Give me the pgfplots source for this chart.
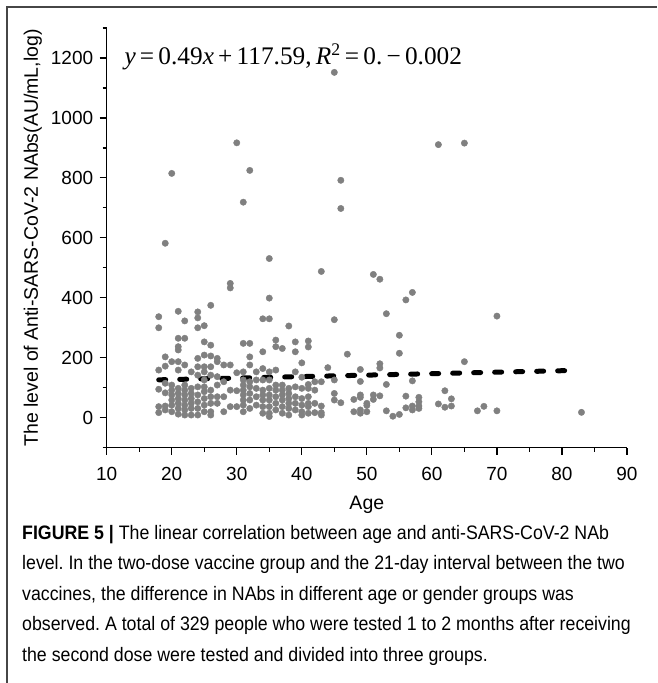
\documentclass[border=0pt]{standalone}
\usepackage{fontspec}
\setmainfont{Liberation Sans}
\newfontfamily\timesfont{Liberation Serif}
\newfontfamily\capfont[FakeStretch=0.91]{Liberation Sans}
\usepackage{pgfplots}
\pgfplotsset{compat=1.18}
\definecolor{dotgray}{RGB}{128,128,128}
\definecolor{framegray}{RGB}{70,70,70}
\frenchspacing

\pgfplotstableread{
age val
45 1152
30 917
32 825
20 815
61 911
65 916
31 719
46 792
46 698
19 582
35 531
43 488
51 478
52 462
29 448
29 433
57 418
35 399
56 393
26 375
53 347
70 339
18 337
21 355
22 323
24 353
24 333
25 307
34 330
35 330
38 306
45 327
18 300
24 300
55 275
55 215
47 212
65 187
49 161
52 180
52 166
49 121
53 111
57 123
62 90
48 61
49 76
49 68
50 48
50 41
51 76
51 61
52 73
48 20
49 26
49 15
50 20
53 23
54 5
55 11
56 33
56 72
57 39
57 26
58 68
58 53
58 39
58 31
61 46
62 35
63 63
63 39
67 23
68 38
70 23
83 18
40 183
40 135
40 98
40 64
40 42
40 20
40 9
41 256
41 236
41 111
41 98
41 70
41 48
41 37
41 15
42 120
42 92
42 48
42 17
43 120
43 39
43 17
43 9
44 167
45 126
45 81
45 59
46 50
18 159
18 95
18 37
18 17
19 203
19 172
19 115
19 83
19 39
19 26
20 187
20 109
20 92
20 76
20 59
20 42
20 20
21 265
21 237
21 226
21 187
21 159
21 98
21 81
21 64
21 48
21 31
21 12
22 265
22 176
22 109
22 92
22 76
22 59
22 42
22 26
22 9
23 153
23 98
23 81
23 64
23 48
23 31
23 9
24 198
24 170
24 142
24 103
24 76
24 53
24 31
24 9
25 253
25 209
25 170
25 153
25 126
25 103
25 87
25 64
25 42
25 20
26 242
26 206
26 170
26 142
26 92
26 70
26 48
26 20
26 9
27 198
27 187
27 137
27 109
27 70
27 48
28 176
28 120
28 70
28 20
29 176
29 92
29 37
30 150
30 90
30 37
31 248
31 153
31 126
31 109
31 92
31 76
31 59
31 42
31 20
32 248
32 203
32 176
32 120
32 103
32 81
32 59
32 31
33 153
33 126
33 98
33 70
33 42
34 220
34 164
34 126
34 92
34 76
34 59
34 37
34 15
35 153
35 126
35 98
35 76
35 59
35 37
35 15
35 4
36 259
36 237
36 159
36 109
36 92
36 70
36 48
36 26
37 231
37 109
37 92
37 76
37 59
37 37
37 15
38 98
38 81
38 64
38 48
38 31
38 9
39 253
39 220
39 153
39 103
39 70
39 48
39 26
}\agedata

\begin{document}
\begin{tikzpicture}[x=1pt,y=1pt]
\useasboundingbox (0,0) rectangle (657,-683);
\draw[line width=1.2pt, framegray] (7,-683) -- (7,-7) -- (657,-7);

\begin{axis}[
    at={(106.7pt,-447.7pt)}, anchor=south west,
    scale only axis,
    width=520.3pt, height=419.7pt,
    xmin=10, xmax=90,
    ymin=-100, ymax=1300,
    axis x line*=bottom,
    axis y line*=left,
    axis line style={line width=1.3pt},
    xtick={10,20,...,90},
    ytick={0,200,...,1200},
    minor xtick={15,25,...,85},
    minor ytick={-100,100,...,1300},
    tick align=outside,
    major tick length=7pt,
    minor tick length=4pt,
    every tick/.style={black, line width=1.2pt},
    /pgf/number format/assume math mode=true,
    /pgf/number format/set thousands separator={},
    tick label style={font=\fontsize{19}{19}\selectfont},
    yticklabel style={xshift=-3pt},
    xticklabel style={yshift=-9pt},
    xlabel={Age},
    ylabel={The level of Anti-SARS-CoV-2 NAbs(AU/mL,log)},
    label style={font=\fontsize{19.5}{19.5}\selectfont},
    xlabel style={yshift=-9pt},
    ylabel style={yshift=2pt},
    clip=false,
]
\addplot[only marks, mark=*, mark size=3.2pt, dotgray, mark options={draw=none, fill=dotgray}]
    table[x=age, y=val] {\agedata};
\addplot[black, line width=5pt, line cap=round, dash pattern=on 7pt off 14pt]
    coordinates {(18,126.4) (81,157.3)};
\end{axis}

\node[anchor=west, font=\timesfont\fontsize{25.3}{25.3}\selectfont] at (121,-57)
    {\textit{y}\,=\,0.49\textit{x}\,+\,117.59,\,\textit{R}\textsuperscript{2}\,=\,0.\,−\,0.002};

\begin{scope}[every node/.style={anchor=base west, inner sep=0pt, font=\capfont\fontsize{19.5}{19.5}\selectfont}]
\node at (22,-539) {\textbf{FIGURE 5 |} The linear correlation between age and anti-SARS-CoV-2 NAb};
\node at (22,-569.5) {level. In the two-dose vaccine group and the 21-day interval between the two};
\node at (22,-600) {vaccines, the difference in NAbs in different age or gender groups was};
\node at (22,-630.5) {observed. A total of 329 people who were tested 1 to 2 months after receiving};
\node at (22,-661) {the second dose were tested and divided into three groups.};
\end{scope}
\end{tikzpicture}
\end{document}
